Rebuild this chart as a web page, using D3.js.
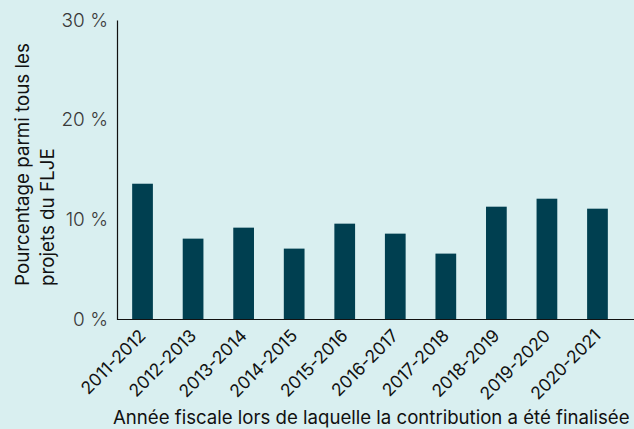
<!DOCTYPE html>
<html><head><meta charset="utf-8">
<script src="https://cdn.jsdelivr.net/npm/d3@7"></script>
<style>html,body{margin:0;padding:0;background:#d9eff0;}svg{display:block;}</style>
</head><body>
<script>
const categories = ["2011-2012","2012-2013","2013-2014","2014-2015","2015-2016","2016-2017","2017-2018","2018-2019","2019-2020","2020-2021"];
const values = [13.6, 8.1, 9.2, 7.1, 9.6, 8.6, 6.6, 11.3, 12.1, 11.1];
const yTicks = [0, 10, 20, 30];
const yTitle = ["Pourcentage parmi tous les", "projets du FLJE"];
const xTitle = "Année fiscale lors de laquelle la contribution a été finalisée";

const W = 634, H = 429;
const font = "Inter, 'Noto Sans', sans-serif";
const svg = d3.select("body").append("svg").attr("width", W).attr("height", H);
svg.append("rect").attr("width", W).attr("height", H).attr("fill", "#d9eff0");

const x = d3.scaleBand().domain(categories).range([117, 623]).paddingInner(0.59).paddingOuter(0.3);
const y = d3.scaleLinear().domain([0, 30]).range([319.5, 20]);

svg.selectAll("rect.bar").data(values).enter().append("rect")
  .attr("class", "bar")
  .attr("x", (d, i) => x(categories[i]))
  .attr("width", x.bandwidth())
  .attr("y", d => y(d))
  .attr("height", d => y(0) - y(d))
  .attr("fill", "#003f50");

// y axis
const yAxis = svg.append("g").attr("transform", "translate(117,0)")
  .call(d3.axisLeft(y).tickValues(yTicks).tickSize(0).tickPadding(9).tickFormat(d => d + " %"));
yAxis.select(".domain").attr("stroke", "#111").attr("stroke-width", 1.2);
yAxis.selectAll("text").attr("font-family", font).attr("font-size", 19).attr("fill", "#3a3a3a").attr("font-weight", 300);

// x axis
const xAxis = svg.append("g").attr("transform", "translate(0,319.5)")
  .call(d3.axisBottom(x).tickSize(0));
xAxis.select(".domain").remove();
svg.append("line").attr("x1", 117).attr("x2", W).attr("y1", 319.5).attr("y2", 319.5)
  .attr("stroke", "#111").attr("stroke-width", 1.2);
xAxis.selectAll("text")
  .attr("x", 0).attr("y", 0)
  .attr("font-family", font).attr("font-size", 17.5).attr("fill", "#111")
  .attr("text-anchor", "end")
  .attr("dy", "0.35em")
  .attr("transform", "translate(0,13) rotate(-45)");

// y title
const yt = svg.append("text").attr("transform", "translate(29,286) rotate(-90)")
  .attr("font-family", font).attr("font-size", 18.7).attr("fill", "#111");
yt.selectAll("tspan").data(yTitle).enter().append("tspan")
  .attr("x", 0).attr("dy", (d, i) => i === 0 ? 0 : 25).text(d => d);
const l1 = yt.select("tspan").node().getComputedTextLength();
yt.attr("font-size", 18.7 * 243 / l1);

const xt = svg.append("text").attr("x", 113).attr("y", 424)
  .attr("font-family", font).attr("font-size", 19).attr("fill", "#111")
  .text(xTitle);
const lx = xt.node().getComputedTextLength();
xt.attr("font-size", 19 * 517 / lx);
</script>
</body></html>
